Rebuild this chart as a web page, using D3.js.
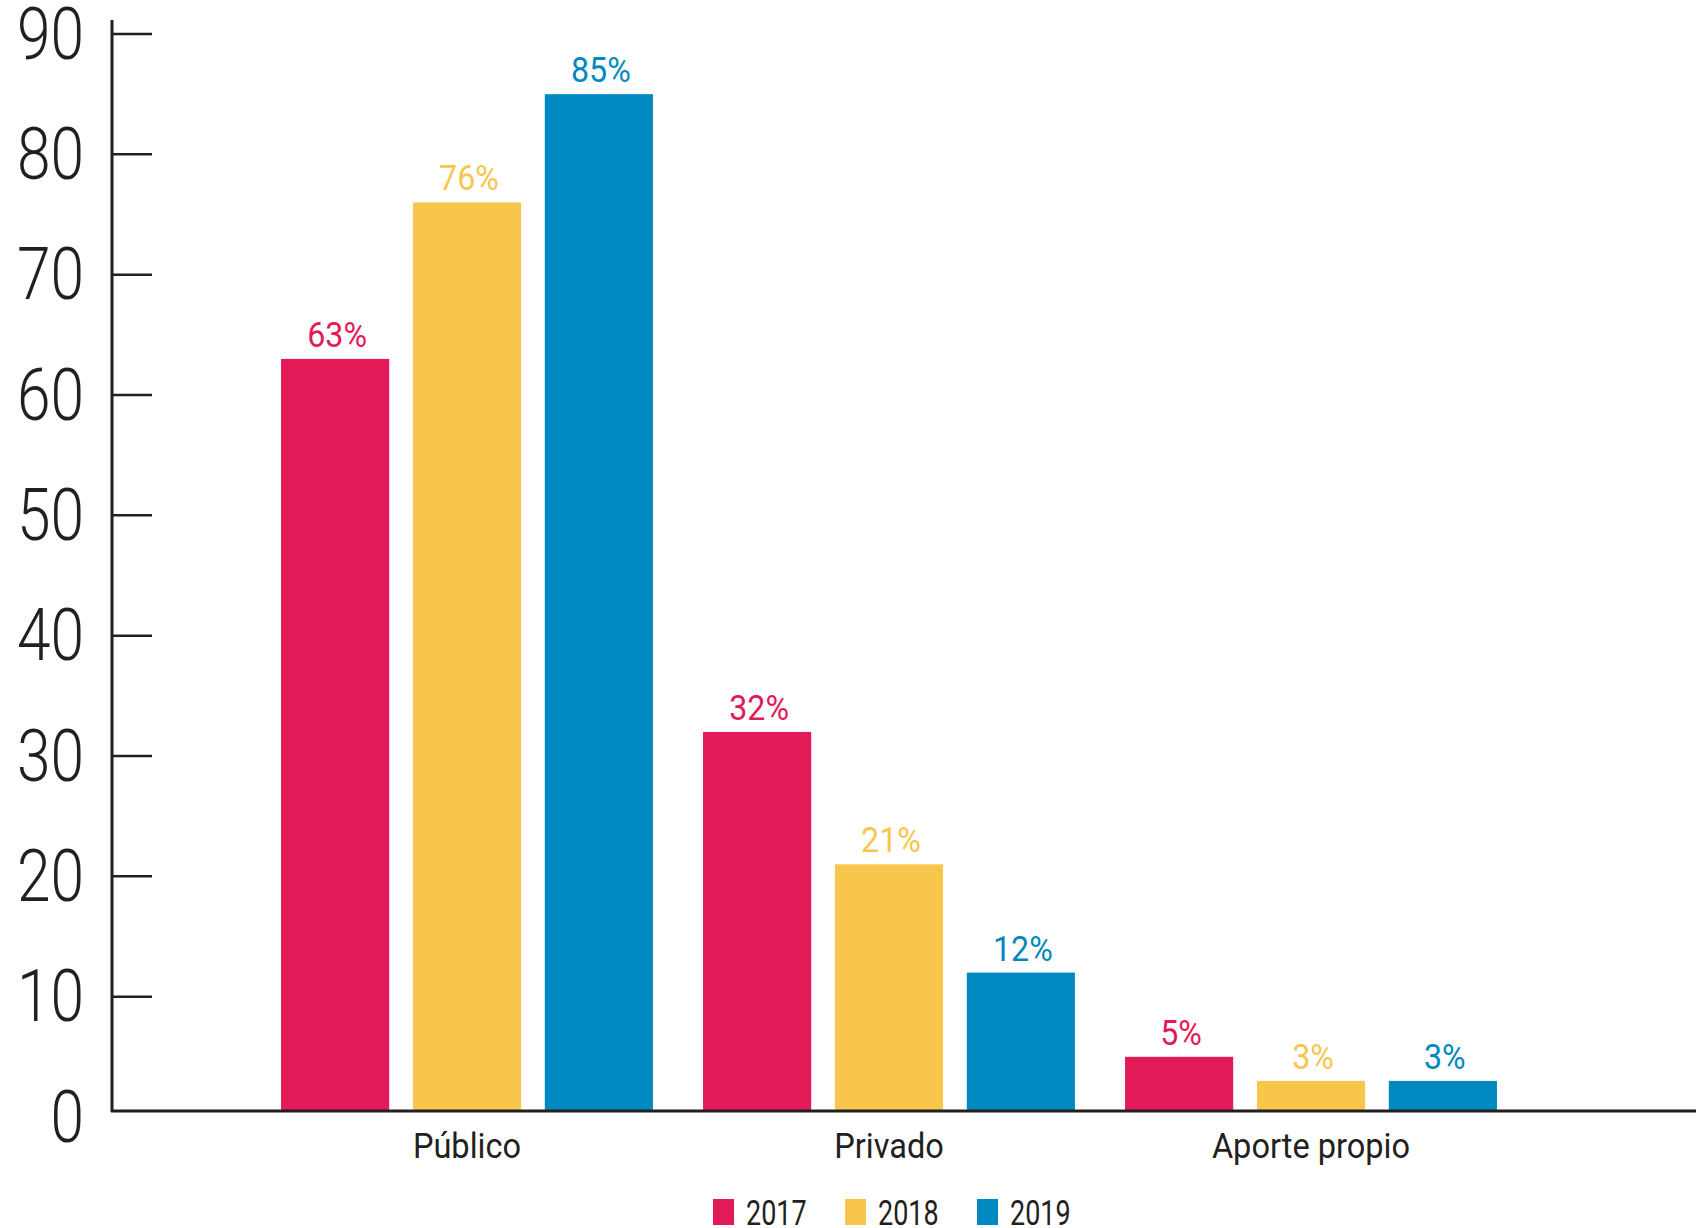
<!DOCTYPE html>
<html>
<head>
<meta charset="utf-8">
<script src="https://cdn.jsdelivr.net/npm/d3@7"></script>
<style>
  html, body { margin: 0; padding: 0; background: #ffffff; }
  svg { display: block; font-family: Roboto, "Noto Sans", sans-serif; }
</style>
</head>
<body>
<svg id="chart" width="1696" height="1228"></svg>
<script>
// ---- data ----
const categories = ["Público", "Privado", "Aporte propio"];
const years = ["2017", "2018", "2019"];
const values2017 = [63, 32, 5];
const values2018 = [76, 21, 3];
const values2019 = [85, 12, 3];
const yTicks = [0, 10, 20, 30, 40, 50, 60, 70, 80, 90];
const colors = ["#E21A57", "#F8C64C", "#0088C0"];

const seriesValues = [values2017, values2018, values2019];
const rows = categories.map((c, i) => ({
  category: c,
  values: years.map((y, j) => ({ year: y, value: seriesValues[j][i], color: colors[j] }))
}));

// ---- layout ----
const W = 1696, H = 1228;
const axisX = 112;
const baseY = 1111;
const ink = "#231F20";

const svg = d3.select("#chart");

const y = d3.scaleLinear().domain([0, 90]).range([1117, 34]);
const x0 = d3.scaleBand().domain(categories).range([256, 1522]).paddingInner(0).paddingOuter(0);
const x1 = d3.scaleBand().domain(years).range([0, x0.bandwidth()]).paddingInner(0.18).paddingOuter(0.19);

// narrow the glyphs horizontally (condensed look) without transforms
function condense(sel, sx) {
  sel.each(function () {
    const w = this.getComputedTextLength();
    d3.select(this)
      .attr("textLength", (w * sx).toFixed(1))
      .attr("lengthAdjust", "spacingAndGlyphs");
  });
}

// bars
const groups = svg.append("g").selectAll("g")
  .data(rows).join("g")
  .attr("transform", d => `translate(${x0(d.category)},0)`);

groups.selectAll("rect")
  .data(d => d.values).join("rect")
  .attr("x", d => x1(d.year))
  .attr("y", d => y(d.value))
  .attr("width", x1.bandwidth())
  .attr("height", d => baseY - y(d.value))
  .attr("fill", d => d.color);

// value labels
groups.selectAll("text")
  .data(d => d.values).join("text")
  .attr("x", d => x1(d.year) + x1.bandwidth() / 2 + 2)
  .attr("y", d => y(d.value) - 12)
  .attr("text-anchor", "middle")
  .attr("font-size", 35)
  .attr("font-weight", 400)
  .attr("fill", d => d.color)
  .text(d => d.value + "%")
  .call(condense, 0.92);

// y axis
const yAxis = svg.append("g");
yAxis.append("line")
  .attr("x1", axisX).attr("x2", axisX)
  .attr("y1", 20).attr("y2", baseY + 1)
  .attr("stroke", ink).attr("stroke-width", 3);

yAxis.selectAll("line.tick")
  .data(yTicks.filter(t => t > 0)).join("line")
  .attr("class", "tick")
  .attr("x1", axisX).attr("x2", axisX + 40)
  .attr("y1", d => y(d)).attr("y2", d => y(d))
  .attr("stroke", ink).attr("stroke-width", 2.5);

yAxis.selectAll("text")
  .data(yTicks).join("text")
  .attr("x", 84)
  .attr("y", d => y(d))
  .attr("text-anchor", "end")
  .attr("dominant-baseline", "central")
  .attr("font-size", 72)
  .attr("font-weight", 300)
  .attr("fill", ink)
  .text(d => d)
  .call(condense, 0.84);

// x axis
svg.append("line")
  .attr("x1", axisX - 1).attr("x2", W)
  .attr("y1", baseY).attr("y2", baseY)
  .attr("stroke", ink).attr("stroke-width", 3);

svg.append("g").selectAll("text")
  .data(categories).join("text")
  .attr("x", d => x0(d) + x0.bandwidth() / 2)
  .attr("y", 1158)
  .attr("text-anchor", "middle")
  .attr("font-size", 35)
  .attr("font-weight", 400)
  .attr("fill", ink)
  .text(d => d)
  .call(condense, 0.93);

// legend
const legend = svg.append("g").selectAll("g")
  .data(years).join("g")
  .attr("transform", (d, i) => `translate(${713 + i * 132},1199)`);

legend.append("rect")
  .attr("width", 21).attr("height", 26)
  .attr("fill", (d, i) => colors[i]);

legend.append("text")
  .attr("x", 33)
  .attr("y", 26)
  .attr("font-size", 35)
  .attr("font-weight", 400)
  .attr("fill", ink)
  .text(d => d)
  .call(condense, 0.77);
</script>
</body>
</html>
